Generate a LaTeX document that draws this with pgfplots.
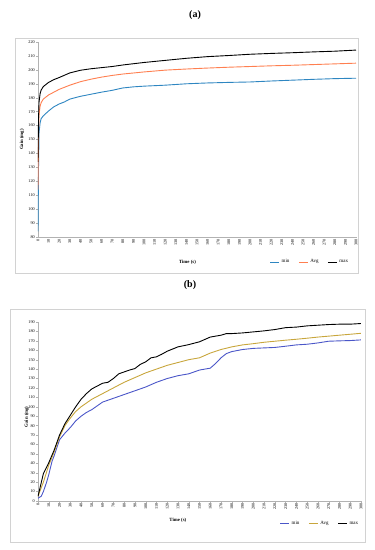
\documentclass[border=0pt]{standalone}
\usepackage{pgfplots}
\pgfplotsset{compat=1.18}
\usepackage{fontspec}
\setmainfont{Liberation Serif}
\definecolor{aMin}{HTML}{2E86C1}
\definecolor{aAvg}{HTML}{FF7F50}
\definecolor{bMin}{HTML}{4A56C8}
\definecolor{bAvg}{HTML}{C8A63C}
\pgfplotsset{
  panel/.style={
    scale only axis,
    anchor=south west,
    xmin=0, xmax=300,
    xtick distance=10,
    ytick distance=10,
    axis x line*=bottom,
    axis y line*=left,
    axis line style={gray!60,-},
    tick style={gray!60, line width=0.3pt},
    tick align=outside,
    major tick length=1.5pt,
    /pgf/number format/assume math mode=true,
    tick label style={font=\fontsize{4.2}{5}\selectfont},
    xticklabel style={rotate=90, anchor=east, inner sep=1pt},
    yticklabel style={inner sep=1.5pt},
    ylabel={Gain (mg)},
    xlabel={Time (s)},
    label style={font=\bfseries\fontsize{4.8}{6}\selectfont},
    legend columns=3,
    legend style={draw=none, fill=none, font=\fontsize{5}{6}\selectfont,
      /tikz/every even column/.append style={column sep=7pt}},
    legend image code/.code={\draw[#1] (0pt,0pt) -- (9pt,0pt);},
    every axis plot/.append style={line width=0.9pt, mark=none},
  }
}
\begin{document}
\begin{tikzpicture}
\path[use as bounding box] (0pt,0pt) rectangle (375pt,550pt);
\draw[gray!35, line width=0.5pt] (15pt,277pt) rectangle (358pt,512pt);
\draw[gray!35, line width=0.5pt] (10pt,8pt) rectangle (365pt,241pt);
\node[font=\bfseries\fontsize{10}{12}\selectfont] at (195pt,535pt) {(a)};
\node[font=\bfseries\fontsize{10}{12}\selectfont] at (190pt,265pt) {(b)};

\begin{axis}[panel,
  at={(38pt,313pt)}, width=318pt, height=195pt,
  ymin=80, ymax=220,
  xlabel style={at={(axis description cs:0.47,-0.128)}, anchor=center},
  ylabel style={at={(axis description cs:-0.05,0.5)}, anchor=center},
  legend style={at={(axis description cs:0.855,-0.128)}, anchor=center},
]
\addplot[aMin] coordinates {(0,84) (0.5,130) (1,155) (2,162) (3,165) (5,167) (10,170.5) (15,173.5) (20,175.5) (25,177) (30,179) (40,181) (50,182.5) (60,184) (70,185.3) (80,187) (90,187.8) (100,188.3) (120,189) (140,190) (160,190.6) (180,191) (200,191.3) (220,192) (240,192.6) (260,193.2) (280,193.7) (300,194)};
\addplot[aAvg] coordinates {(0,114) (0.5,150) (1,168) (2,174) (3,176.5) (5,179) (10,182) (15,184) (20,186) (30,189) (40,191.5) (50,193.3) (60,194.8) (70,196) (80,197) (100,198.5) (120,199.8) (140,200.6) (160,201.3) (180,201.9) (200,202.4) (220,202.9) (240,203.3) (260,203.8) (280,204.3) (300,204.8)};
\addplot[black] coordinates {(0,134) (0.5,165) (1,177) (2,183) (3,185.5) (5,188) (10,191) (15,193) (20,194.5) (30,197.8) (40,199.7) (50,200.8) (60,201.6) (70,202.4) (80,203.5) (100,205.3) (120,206.8) (140,208.3) (160,209.5) (180,210.3) (200,211.2) (220,211.8) (240,212.3) (260,212.9) (280,213.4) (300,214.2)};
\legend{min, Avg, max}
\end{axis}

\begin{axis}[panel,
  at={(38pt,49pt)}, width=323pt, height=179pt,
  ymin=0, ymax=190,
  xlabel style={at={(axis description cs:0.433,-0.106)}, anchor=center},
  ylabel style={at={(axis description cs:-0.035,0.47)}, anchor=center},
  legend style={at={(axis description cs:0.873,-0.128)}, anchor=center},
]
\addplot[bMin] coordinates {(0,3) (3,5) (5,10) (8,20) (10,28) (13,42) (15,48) (20,65) (25,72) (30,78) (35,85) (40,90) (45,94) (50,97) (55,101) (60,105) (70,109) (80,113) (90,117) (95,119) (100,121) (110,126) (120,130) (130,133) (140,135) (150,139) (160,141) (165,146) (170,152) (175,156.5) (180,158.6) (190,160.8) (200,162) (210,162.5) (220,163) (230,164.3) (240,165.7) (250,166.4) (260,167.8) (270,169.6) (280,170) (290,170.3) (300,171)};
\addplot[bAvg] coordinates {(0,5) (5,20) (10,38) (15,52) (20,68) (25,80) (30,88) (35,95) (40,100) (50,108) (60,114) (70,120) (80,126) (90,131) (100,136) (110,140) (120,144) (130,147) (140,150) (150,152) (160,157) (170,160.8) (180,163.6) (190,165.7) (200,167) (210,168.5) (220,169.6) (230,170.7) (240,171.7) (250,172.8) (260,174) (270,175) (280,176) (290,177) (300,178)};
\addplot[black] coordinates {(0,5) (5,29) (10,40.6) (15,54) (20,70) (25,82) (30,91) (35,100) (40,108) (45,114) (50,119) (55,122) (60,125) (65,126) (70,130) (75,135) (80,137) (85,139) (90,140.6) (95,145) (100,147.7) (105,152) (110,153) (115,155.8) (120,159) (130,163.6) (140,166) (150,169) (160,174) (170,176) (175,177.7) (180,177.7) (190,178.4) (200,179.5) (210,180.6) (220,182) (230,184) (240,184.6) (250,185.9) (260,186.6) (270,187.3) (280,187.7) (290,187.7) (300,188.4)};
\legend{min, Avg, max}
\end{axis}
\end{tikzpicture}
\end{document}
